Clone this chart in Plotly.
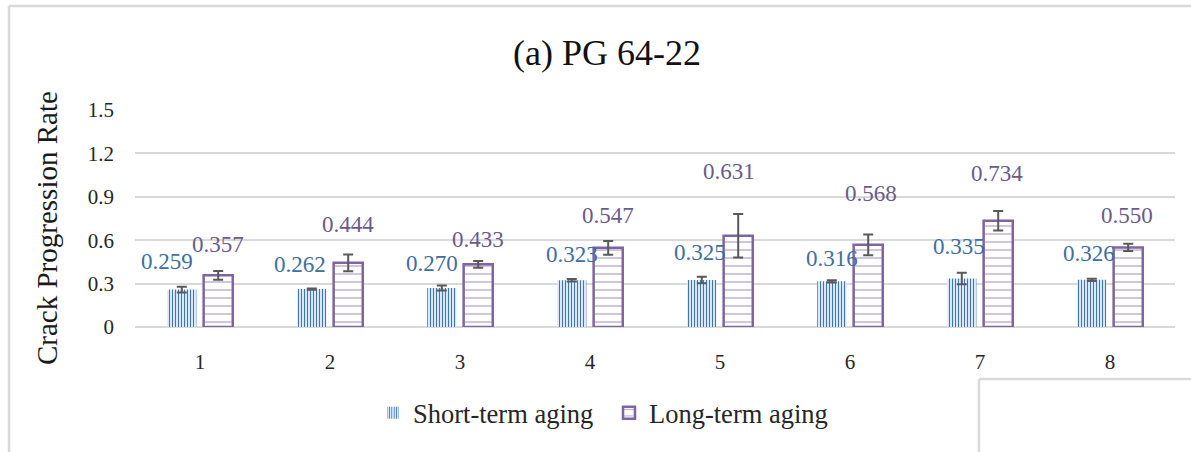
import plotly.graph_objects as go

# Mixture numbers on the x axis
mixes = [1, 2, 3, 4, 5, 6, 7, 8]

# Mean crack progression rate and its standard deviation per aging condition
short_term = [0.259, 0.262, 0.270, 0.323, 0.325, 0.316, 0.335, 0.326]
short_term_sd = [0.020, 0.004, 0.017, 0.008, 0.023, 0.008, 0.040, 0.008]
long_term = [0.357, 0.444, 0.433, 0.547, 0.631, 0.568, 0.734, 0.550]
long_term_sd = [0.030, 0.058, 0.023, 0.048, 0.150, 0.072, 0.067, 0.025]

y_ticks = [0, 0.3, 0.6, 0.9, 1.2, 1.5]
y_tick_text = ["0", "0.3", "0.6", "0.9", "1.2", "1.5"]

# Pixel nudges for the value labels (horizontal, and height above the error bar)
short_label_dx = [-15, -12, -10, 0, -2, 0, -3, -3]
short_label_dy = [25, 24, 22, 25, 24, 22, 26, 25]
long_label_dx = [0, 0, 0, 0, -9, 3, -1, -1]
long_label_dy = [27, 30, 22, 25, 43, 41, 38, 28]

SERIF = "Liberation Serif, Times New Roman, serif"
BLUE = "#3a77bf"
PURPLE = "#8064a2"
GRID = "#d9d9d9"
ERR = "#595959"

BARGAP = 0.44
BARGROUPGAP = 0.2

W, H = 1191, 452
ML, MR, MT, MB = 135, 16, 110, 125
PW, PH = W - ML - MR, H - MT - MB

fig = go.Figure()

fig.add_trace(go.Bar(
    x=mixes, y=short_term, name="Short-term aging",
    marker=dict(
        color="white",
        line=dict(width=0),
        pattern=dict(shape="|", fgcolor=BLUE, bgcolor="white", fgopacity=1,
                     size=3, solidity=0.45),
    ),
    error_y=dict(type="data", array=short_term_sd, visible=True,
                 color=ERR, thickness=2, width=5),
))

fig.add_trace(go.Bar(
    x=mixes, y=long_term, name="Long-term aging",
    marker=dict(
        color="white",
        line=dict(color=PURPLE, width=2.5),
        pattern=dict(shape="-", fgcolor=PURPLE, bgcolor="white", size=8, solidity=0.18),
    ),
    error_y=dict(type="data", array=long_term_sd, visible=True,
                 color=ERR, thickness=2, width=5),
))

# Value labels placed over each bar's error bar
slot = (1 - BARGAP) / 2
annotations = []
for i, m in enumerate(mixes):
    annotations.append(dict(
        x=m - slot / 2, y=short_term[i] + short_term_sd[i], xref="x", yref="y",
        text=f"{short_term[i]:.3f}", showarrow=False,
        xshift=short_label_dx[i], yshift=short_label_dy[i],
        font=dict(family=SERIF, size=23, color="#3e6f9f"),
    ))
    annotations.append(dict(
        x=m + slot / 2, y=long_term[i] + long_term_sd[i], xref="x", yref="y",
        text=f"{long_term[i]:.3f}", showarrow=False,
        xshift=long_label_dx[i], yshift=long_label_dy[i],
        font=dict(family=SERIF, size=23, color="#6a5a8c"),
    ))

# Vertical axis title
annotations.append(dict(
    x=(47 - ML) / PW, y=(H - MB - 228) / PH, xref="paper", yref="paper",
    text="Crack Progression Rate", textangle=-90, showarrow=False,
    xanchor="center", yanchor="middle",
    font=dict(family=SERIF, size=29, color="#1a1a1a"),
))


def px_x(p):
    return (p - ML) / PW


def px_y(p):
    return (H - MB - p) / PH


# Chart frame and the corner of the neighbouring panel
shapes = [
    dict(type="line", xref="paper", yref="paper",
         x0=px_x(9), x1=px_x(1200), y0=px_y(6), y1=px_y(6),
         line=dict(color=GRID, width=2.5)),
    dict(type="line", xref="paper", yref="paper",
         x0=px_x(9), x1=px_x(9), y0=px_y(6), y1=px_y(460),
         line=dict(color=GRID, width=2.5)),
    dict(type="line", xref="paper", yref="paper",
         x0=px_x(979), x1=px_x(1200), y0=px_y(379), y1=px_y(379),
         line=dict(color=GRID, width=2.5)),
    dict(type="line", xref="paper", yref="paper",
         x0=px_x(979), x1=px_x(979), y0=px_y(379), y1=px_y(460),
         line=dict(color=GRID, width=2.5)),
]

fig.update_layout(
    width=W, height=H,
    margin=dict(l=ML, r=MR, t=MT, b=MB),
    paper_bgcolor="white", plot_bgcolor="white",
    barmode="group", bargap=BARGAP, bargroupgap=BARGROUPGAP,
    title=dict(text="(a) PG 64-22", x=607 / W, xanchor="center",
               y=1 - 52 / H, yanchor="middle", yref="container",
               font=dict(family=SERIF, size=36, color="#111111")),
    showlegend=True,
    legend=dict(orientation="h", x=px_x(373), xanchor="left",
                y=px_y(413), yanchor="middle",
                font=dict(family=SERIF, size=26.5, color="#262626"),
                itemwidth=30, entrywidth=191, entrywidthmode="pixels",
                bgcolor="rgba(0,0,0,0)"),
    annotations=annotations,
    shapes=shapes,
    font=dict(family=SERIF),
)

fig.update_xaxes(
    tickmode="array", tickvals=mixes, ticktext=[str(m) for m in mixes],
    range=[0.5, 8.5], showgrid=False, showline=False, zeroline=False,
    ticks="", ticklabelstandoff=20,
    tickfont=dict(family=SERIF, size=21, color="#262626"),
)

fig.update_yaxes(
    tickmode="array", tickvals=y_ticks, ticktext=y_tick_text,
    range=[0, 1.5], showgrid=True, gridcolor=GRID, gridwidth=1.5,
    zeroline=True, zerolinecolor=GRID, zerolinewidth=1.5,
    showline=False, ticks="", ticklabelstandoff=20,
    tickfont=dict(family=SERIF, size=21, color="#262626"),
)

fig.write_html("out.html")
